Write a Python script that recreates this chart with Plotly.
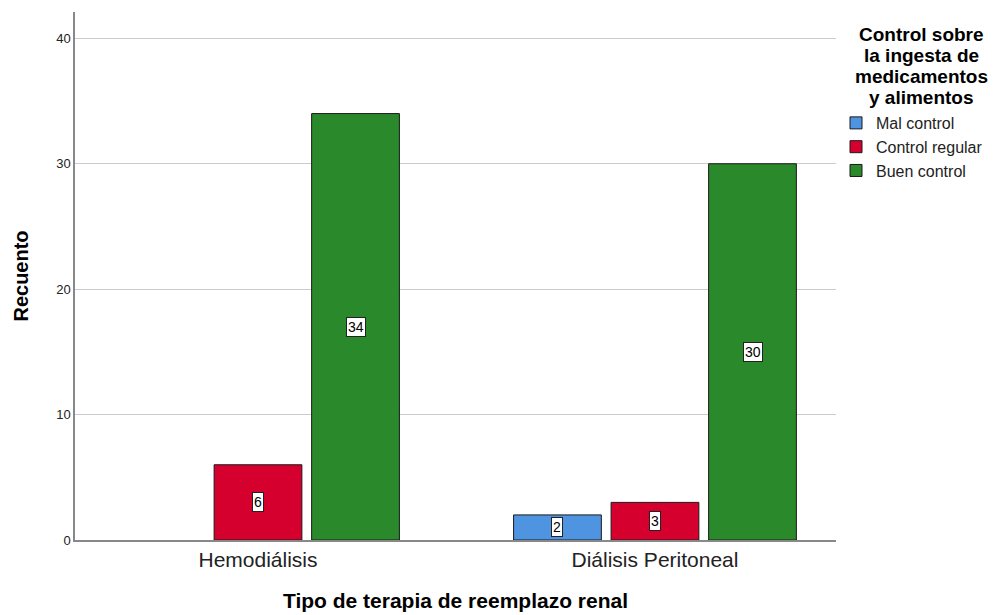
import plotly.graph_objects as go

categories = ["Hemodiálisis", "Diálisis Peritoneal"]
series_names = ["Mal control", "Control regular", "Buen control"]
values = {
    "Mal control": [None, 2],
    "Control regular": [6, 3],
    "Buen control": [34, 30],
}
colors = {"Mal control": "#4f94e0", "Control regular": "#d6002e", "Buen control": "#2a892a"}
y_ticks = [0, 10, 20, 30, 40]
legend_title_lines = ["Control sobre", "la ingesta de", "medicamentos", "y alimentos"]

FONT = "Liberation Sans, Arial, sans-serif"
bargap = 0.263
bargroupgap = 0.1

fig = go.Figure()
for name in series_names:
    fig.add_trace(go.Bar(
        name=name, x=categories, y=values[name],
        marker=dict(color=colors[name], line=dict(color="#1a1a1a", width=1)),
    ))

slot = (1 - bargap) / len(series_names)
annotations = []
for si, name in enumerate(series_names):
    for ci, v in enumerate(values[name]):
        if v is None:
            continue
        annotations.append(dict(
            x=ci + (si - (len(series_names) - 1) / 2) * slot, y=v / 2,
            xref="x", yref="y", text=str(v), showarrow=False,
            font=dict(family=FONT, size=14, color="#000"),
            bgcolor="white", bordercolor="#222", borderwidth=1, borderpad=1,
        ))

for i, line in enumerate(legend_title_lines):
    annotations.append(dict(
        x=1.112, y=1.0, xref="paper", yref="paper", xanchor="center", yanchor="middle",
        yshift=-22 - 21 * i, text="<b>" + line + "</b>", showarrow=False,
        font=dict(family=FONT, size=19, color="#000"),
    ))

fig.update_layout(
    width=1000, height=615,
    margin=dict(l=67, r=172, t=4, b=83),
    paper_bgcolor="white", plot_bgcolor="white",
    barmode="group", bargap=bargap, bargroupgap=bargroupgap,
    font=dict(family=FONT, color="#000"),
    annotations=annotations,
    legend=dict(
        x=1.0, y=0.822, xanchor="left", yanchor="top",
        font=dict(size=16, family=FONT, color="#222"),
        tracegroupgap=0, itemwidth=30,
    ),
    xaxis=dict(
        range=[-0.461, 1.456], showline=True, linecolor="#888", linewidth=1.5,
        ticks="", tickfont=dict(size=21, color="#222"),
        title=dict(text="<b>Tipo de terapia de reemplazo renal</b>", font=dict(size=21), standoff=23),
    ),
    yaxis=dict(
        range=[0, 42.1], tickvals=y_ticks, showline=True, linecolor="#888", linewidth=1.5,
        showgrid=True, gridcolor="#cccccc", gridwidth=1, zeroline=False,
        ticks="", tickfont=dict(size=13, color="#222"),
        title=dict(text="<b>Recuento</b>", font=dict(size=20), standoff=22),
    ),
)

fig.write_html("out.html")
